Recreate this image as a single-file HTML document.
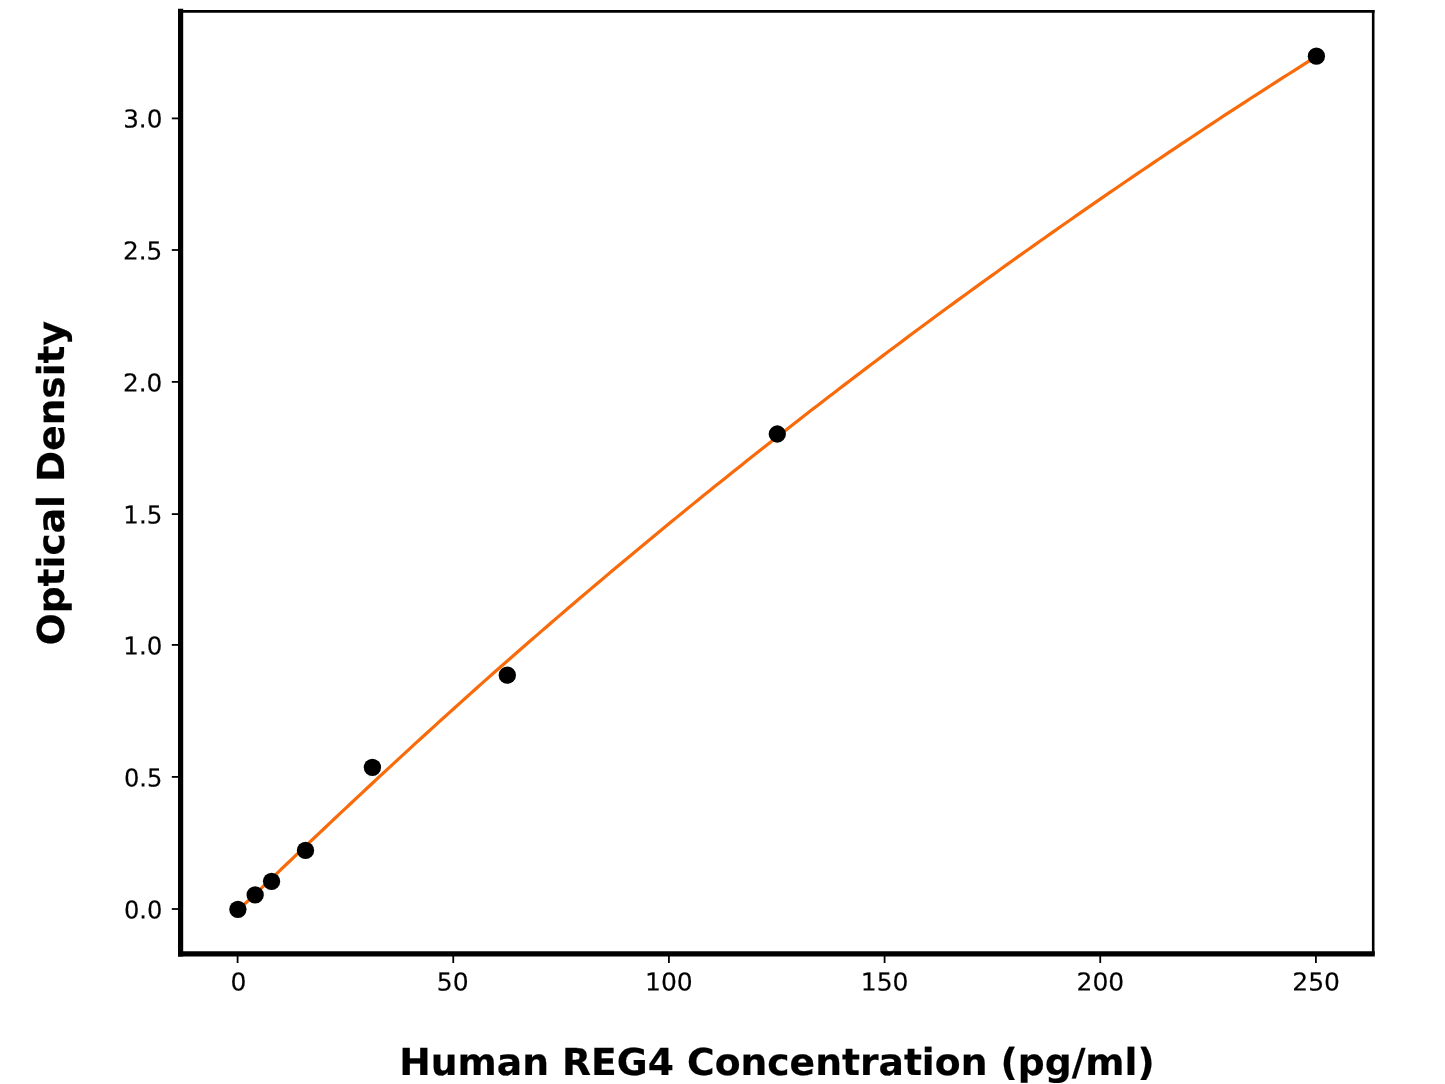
<!DOCTYPE html>
<html><head><meta charset="utf-8"><title>Human REG4 ELISA standard curve</title>
<style>
html,body{margin:0;padding:0;background:#fff;}
body{width:1445px;height:1084px;overflow:hidden;}
svg{display:block;}
text{font-family:"DejaVu Sans","Liberation Sans",sans-serif;fill:#000;text-rendering:geometricPrecision;}
.tk{font-size:25px;stroke:#000;stroke-width:0.2px;}
.lab{font-size:37.65px;font-weight:bold;stroke:#000;stroke-width:0.2px;}
</style></head><body>
<svg width="1445" height="1084" viewBox="0 0 1445 1084">
<rect width="1445" height="1084" fill="#fff"/>
<!-- fitted standard curve -->
<polyline points="237.70,910.42 243.12,905.46 248.54,900.37 253.96,895.25 259.38,890.10 264.80,884.95 270.22,879.78 275.64,874.62 281.06,869.45 286.48,864.28 291.90,859.12 297.32,853.96 302.74,848.81 308.15,843.66 313.57,838.52 318.99,833.38 324.41,828.25 329.83,823.13 335.25,818.02 340.67,812.92 346.09,807.82 351.51,802.73 356.93,797.66 362.35,792.59 367.77,787.53 373.19,782.48 378.61,777.44 384.03,772.41 389.45,767.39 394.87,762.38 400.29,757.38 405.71,752.39 411.13,747.41 416.55,742.44 421.97,737.48 427.39,732.53 432.81,727.59 438.23,722.67 443.64,717.75 449.06,712.84 454.48,707.95 459.90,703.07 465.32,698.19 470.74,693.33 476.16,688.48 481.58,683.64 487.00,678.84 492.42,674.05 497.84,669.26 503.26,664.49 508.68,659.73 514.10,654.98 519.52,650.24 524.94,645.51 530.36,640.80 535.78,636.09 541.20,631.39 546.62,626.71 552.04,622.03 557.46,617.37 562.88,612.71 568.30,608.07 573.72,603.44 579.13,598.81 584.55,594.20 589.97,589.60 595.39,585.01 600.81,580.43 606.23,575.86 611.65,571.30 617.07,566.75 622.49,562.21 627.91,557.68 633.33,553.17 638.75,548.66 644.17,544.16 649.59,539.67 655.01,535.19 660.43,530.73 665.85,526.27 671.27,521.82 676.69,517.38 682.11,512.96 687.53,508.54 692.95,504.13 698.37,499.73 703.79,495.35 709.21,490.97 714.62,486.60 720.04,482.24 725.46,477.89 730.88,473.55 736.30,469.22 741.72,464.90 747.14,460.59 752.56,456.29 757.98,452.00 763.40,447.72 768.82,443.45 774.24,439.19 779.66,434.93 785.08,430.69 790.50,426.45 795.92,422.23 801.34,418.01 806.76,413.81 812.18,409.61 817.60,405.42 823.02,401.24 828.44,397.07 833.86,392.91 839.28,388.76 844.69,384.61 850.11,380.48 855.53,376.36 860.95,372.24 866.37,368.13 871.79,364.03 877.21,359.94 882.63,355.86 888.05,351.79 893.47,347.73 898.89,343.68 904.31,339.63 909.73,335.59 915.15,331.57 920.57,327.55 925.99,323.54 931.41,319.54 936.83,315.54 942.25,311.56 947.67,307.58 953.09,303.61 958.51,299.66 963.93,295.70 969.35,291.76 974.77,287.83 980.18,283.90 985.60,279.99 991.02,276.08 996.44,272.18 1001.86,268.29 1007.28,264.40 1012.70,260.53 1018.12,256.66 1023.54,252.80 1028.96,248.95 1034.38,245.11 1039.80,241.28 1045.22,237.45 1050.64,233.64 1056.06,229.83 1061.48,226.03 1066.90,222.23 1072.32,218.45 1077.74,214.67 1083.16,210.90 1088.58,207.14 1094.00,203.39 1099.42,199.65 1104.84,195.91 1110.26,192.18 1115.67,188.46 1121.09,184.75 1126.51,181.04 1131.93,177.35 1137.35,173.66 1142.77,169.98 1148.19,166.31 1153.61,162.64 1159.03,158.98 1164.45,155.33 1169.87,151.69 1175.29,148.06 1180.71,144.44 1186.13,140.82 1191.55,137.21 1196.97,133.61 1202.39,130.01 1207.81,126.43 1213.23,122.85 1218.65,119.28 1224.07,115.71 1229.49,112.16 1234.91,108.61 1240.33,105.07 1245.75,101.54 1251.16,98.02 1256.58,94.53 1262.00,91.05 1267.42,87.57 1272.84,84.10 1278.26,80.64 1283.68,77.19 1289.10,73.75 1294.52,70.31 1299.94,66.88 1305.36,63.46 1310.78,60.04 1316.20,56.63" fill="none" stroke="#F96A0A" stroke-width="3.2" stroke-linejoin="round" stroke-linecap="butt"/>
<!-- data points -->
<circle cx="237.9" cy="909.3" r="8.65" fill="#000"/>
<circle cx="255.15" cy="894.95" r="8.65" fill="#000"/>
<circle cx="271.55" cy="881.3" r="8.65" fill="#000"/>
<circle cx="305.5" cy="850.4" r="8.65" fill="#000"/>
<circle cx="372.4" cy="767.4" r="8.65" fill="#000"/>
<circle cx="507.3" cy="675.2" r="8.65" fill="#000"/>
<circle cx="777.3" cy="434.0" r="8.65" fill="#000"/>
<circle cx="1316.4" cy="56.2" r="8.65" fill="#000"/>
<!-- x ticks -->
<line x1="237.60" y1="953.8" x2="237.60" y2="963.00" stroke="#000" stroke-width="1.8"/>
<text class="tk" transform="translate(238.40,990.6) rotate(0.03) scale(1,0.985)" text-anchor="middle">0</text>
<line x1="453.26" y1="953.8" x2="453.26" y2="963.00" stroke="#000" stroke-width="1.8"/>
<text class="tk" transform="translate(452.72,990.6) rotate(0.03) scale(1,0.985)" text-anchor="middle">50</text>
<line x1="668.92" y1="953.8" x2="668.92" y2="963.00" stroke="#000" stroke-width="1.8"/>
<text class="tk" transform="translate(668.86,990.6) rotate(0.03) scale(1,0.985)" text-anchor="middle">100</text>
<line x1="884.58" y1="953.8" x2="884.58" y2="963.00" stroke="#000" stroke-width="1.8"/>
<text class="tk" transform="translate(884.67,990.6) rotate(0.03) scale(1,0.985)" text-anchor="middle">150</text>
<line x1="1100.24" y1="953.8" x2="1100.24" y2="963.00" stroke="#000" stroke-width="1.8"/>
<text class="tk" transform="translate(1100.37,990.6) rotate(0.03) scale(1,0.985)" text-anchor="middle">200</text>
<line x1="1315.90" y1="953.8" x2="1315.90" y2="963.00" stroke="#000" stroke-width="1.8"/>
<text class="tk" transform="translate(1316.15,990.6) rotate(0.03) scale(1,0.985)" text-anchor="middle">250</text>
<!-- y ticks -->
<line x1="180.6" y1="909.00" x2="171.80" y2="909.00" stroke="#000" stroke-width="1.8"/>
<text class="tk" transform="translate(162.3,918.60) rotate(0.03) scale(0.965,0.985)" text-anchor="end">0.0</text>
<line x1="180.6" y1="776.90" x2="171.80" y2="776.90" stroke="#000" stroke-width="1.8"/>
<text class="tk" transform="translate(162.3,786.55) rotate(0.03) scale(0.965,0.985)" text-anchor="end">0.5</text>
<line x1="180.6" y1="644.90" x2="171.80" y2="644.90" stroke="#000" stroke-width="1.8"/>
<text class="tk" transform="translate(162.3,654.50) rotate(0.03) scale(0.98,0.985)" text-anchor="end">1.0</text>
<line x1="180.6" y1="514.10" x2="171.80" y2="514.10" stroke="#000" stroke-width="1.8"/>
<text class="tk" transform="translate(162.3,523.40) rotate(0.03) scale(0.98,0.985)" text-anchor="end">1.5</text>
<line x1="180.6" y1="381.90" x2="171.80" y2="381.90" stroke="#000" stroke-width="1.8"/>
<text class="tk" transform="translate(162.3,391.40) rotate(0.03) scale(0.99,0.985)" text-anchor="end">2.0</text>
<line x1="180.6" y1="250.00" x2="171.80" y2="250.00" stroke="#000" stroke-width="1.8"/>
<text class="tk" transform="translate(162.3,259.50) rotate(0.03) scale(0.99,0.985)" text-anchor="end">2.5</text>
<line x1="180.6" y1="118.40" x2="171.80" y2="118.40" stroke="#000" stroke-width="1.8"/>
<text class="tk" transform="translate(162.3,127.55) rotate(0.03) scale(0.985,0.985)" text-anchor="end">3.0</text>
<!-- spines -->
<line x1="180.6" y1="11.4" x2="1373.2" y2="11.4" stroke="#000" stroke-width="2.6" stroke-linecap="square"/>
<line x1="1373.2" y1="11.4" x2="1373.2" y2="953.8" stroke="#000" stroke-width="2.6" stroke-linecap="square"/>
<line x1="180.6" y1="11.4" x2="180.6" y2="953.8" stroke="#000" stroke-width="5.2" stroke-linecap="square"/>
<line x1="180.6" y1="953.8" x2="1372.2" y2="953.8" stroke="#000" stroke-width="5.2" stroke-linecap="square"/>
<!-- axis labels -->
<text class="lab" transform="translate(777.0,1075.0) scale(1,0.985)" text-anchor="middle">Human REG4 Concentration (pg/ml)</text>
<text class="lab" transform="translate(64.1,483.1) rotate(-90) scale(0.998,0.985)" text-anchor="middle">Optical Density</text>
</svg>
</body></html>
